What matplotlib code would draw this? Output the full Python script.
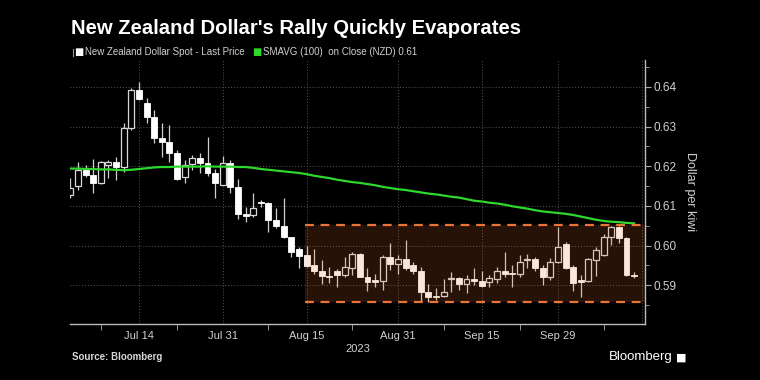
import numpy as np
import pandas as pd
import matplotlib
matplotlib.use('Agg')
import matplotlib.pyplot as plt
from matplotlib.patches import Rectangle

plt.rcParams['font.family'] = ['Liberation Sans', 'DejaVu Sans']

# NZD spot daily candles, Jul 3 - Oct 13 2023 (weekdays)
dates = pd.bdate_range('2023-07-03', '2023-10-13')

opens = [0.6128, 0.6150, 0.6190, 0.6178, 0.6158, 0.6203, 0.6211, 0.6198, 0.6296, 0.6392,
         0.6360, 0.6324, 0.6271, 0.6261, 0.6233, 0.6173, 0.6205, 0.6221, 0.6208, 0.6183,
         0.6153, 0.6208, 0.6148, 0.6079, 0.6077, 0.6110, 0.6107, 0.6064, 0.6049, 0.6021,
         0.5992, 0.5976, 0.5950, 0.5935, 0.5923, 0.5935, 0.5925, 0.5943, 0.5978, 0.5920,
         0.5913, 0.5910, 0.5971, 0.5953, 0.5966, 0.5950, 0.5935, 0.5882, 0.5873, 0.5873,
         0.5915, 0.5917, 0.5902, 0.5915, 0.5910, 0.5907, 0.5915, 0.5935, 0.5930, 0.5928,
         0.5963, 0.5966, 0.5943, 0.5920, 0.5958, 0.6004, 0.5945, 0.5913, 0.5910, 0.5963,
         0.5976, 0.6021, 0.6046, 0.6019, 0.5925]
highs = [0.6170, 0.6211, 0.6203, 0.6218, 0.6214, 0.6216, 0.6223, 0.6309, 0.6397, 0.6413,
         0.6372, 0.6342, 0.6309, 0.6304, 0.6241, 0.6216, 0.6228, 0.6233, 0.6274, 0.6193,
         0.6226, 0.6216, 0.6168, 0.6097, 0.6132, 0.6115, 0.6110, 0.6094, 0.6120, 0.6021,
         0.5997, 0.5999, 0.5991, 0.5963, 0.5945, 0.5940, 0.5971, 0.5983, 0.5981, 0.5943,
         0.5928, 0.5976, 0.6006, 0.5976, 0.6014, 0.5958, 0.5945, 0.5902, 0.5892, 0.5915,
         0.5932, 0.5920, 0.5925, 0.5943, 0.5935, 0.5925, 0.5945, 0.5983, 0.5950, 0.5976,
         0.5978, 0.5971, 0.5950, 0.5968, 0.6046, 0.6009, 0.5950, 0.5925, 0.5968, 0.5996,
         0.6029, 0.6049, 0.6049, 0.6021, 0.5933]
lows = [0.6120, 0.6140, 0.6173, 0.6132, 0.6155, 0.6170, 0.6165, 0.6185, 0.6291, 0.6367,
        0.6309, 0.6259, 0.6223, 0.6211, 0.6165, 0.6158, 0.6190, 0.6183, 0.6175, 0.6120,
        0.6153, 0.6132, 0.6067, 0.6059, 0.6072, 0.6097, 0.6034, 0.6044, 0.6019, 0.5971,
        0.5943, 0.5945, 0.5928, 0.5903, 0.5905, 0.5895, 0.5920, 0.5925, 0.5920, 0.5885,
        0.5895, 0.5887, 0.5938, 0.5928, 0.5938, 0.5928, 0.5857, 0.5857, 0.5862, 0.5870,
        0.5882, 0.5887, 0.5880, 0.5900, 0.5895, 0.5895, 0.5905, 0.5920, 0.5895, 0.5920,
        0.5943, 0.5935, 0.5900, 0.5913, 0.5955, 0.5940, 0.5885, 0.5870, 0.5908, 0.5923,
        0.5973, 0.6001, 0.6006, 0.5923, 0.5918]
closes = [0.6145, 0.6190, 0.6178, 0.6158, 0.6211, 0.6211, 0.6198, 0.6296, 0.6392, 0.6370,
          0.6324, 0.6271, 0.6261, 0.6233, 0.6168, 0.6203, 0.6221, 0.6208, 0.6183, 0.6158,
          0.6208, 0.6148, 0.6079, 0.6074, 0.6094, 0.6107, 0.6064, 0.6049, 0.6021, 0.5983,
          0.5974, 0.5948, 0.5935, 0.5923, 0.5920, 0.5925, 0.5945, 0.5978, 0.5920, 0.5908,
          0.5908, 0.5971, 0.5953, 0.5966, 0.5943, 0.5935, 0.5882, 0.5870, 0.5870, 0.5882,
          0.5917, 0.5902, 0.5915, 0.5910, 0.5897, 0.5917, 0.5935, 0.5928, 0.5928, 0.5958,
          0.5965, 0.5943, 0.5920, 0.5958, 0.5996, 0.5943, 0.5905, 0.5908, 0.5966, 0.5988,
          0.6021, 0.6046, 0.6019, 0.5925, 0.5923]

# 100-day simple moving average on close
sma100 = [0.6194, 0.6194, 0.6193, 0.6193, 0.6192, 0.6192, 0.6191,
          0.6190, 0.6191, 0.6193, 0.6195,
          0.6197, 0.6198, 0.6198, 0.6199, 0.6199,
          0.6199, 0.6199, 0.6200, 0.6199, 0.6199, 0.6199, 0.6198,
          0.6198, 0.6196, 0.6193, 0.6191, 0.6189, 0.6187, 0.6185,
          0.6183, 0.6180, 0.6176, 0.6173, 0.6170, 0.6166,
          0.6163, 0.6160, 0.6158, 0.6155, 0.6152, 0.6148, 0.6145, 0.6142,
          0.6140, 0.6137, 0.6134, 0.6131, 0.6129, 0.6126, 0.6123,
          0.6121, 0.6117, 0.6113, 0.6111, 0.6108, 0.6106, 0.6103,
          0.6099, 0.6096, 0.6093, 0.6089, 0.6086,
          0.6084, 0.6082, 0.6080, 0.6077, 0.6073, 0.6069, 0.6065,
          0.6062, 0.6060, 0.6059, 0.6057, 0.6056]

tick_dates = ['2023-07-14', '2023-07-31', '2023-08-15', '2023-08-31', '2023-09-15', '2023-09-29']
tick_labels = ['Jul 14', 'Jul 31', 'Aug 15', 'Aug 31', 'Sep 15', 'Sep 29']
minor_dates = ['2023-07-07', '2023-07-21', '2023-08-08', '2023-08-23', '2023-09-08', '2023-09-22', '2023-10-09']

range_start = '2023-08-15'
range_top = 0.6052
range_bottom = 0.5858

x = np.arange(len(dates))
o = np.array(opens); h = np.array(highs); l = np.array(lows); c = np.array(closes)
up = c > o
pos = lambda d: dates.get_loc(pd.Timestamp(d))

fig = plt.figure(figsize=(7.6, 3.8), dpi=100, facecolor='black')
ax = fig.add_axes([0.0921, 0.1474, 0.7566, 0.6947], facecolor='black')

# wicks
ax.vlines(x, l, h, color='#d0d0d0', lw=0.9, zorder=2)
# bodies
body = np.maximum(np.abs(c - o), 0.00012)
bottom = np.minimum(o, c)
ax.bar(x[~up], body[~up], bottom=bottom[~up], width=0.78,
       color='white', edgecolor='white', lw=0.6, zorder=3)
ax.bar(x[up], body[up], bottom=bottom[up], width=0.78,
       color='black', edgecolor='#d8d8d8', lw=0.9, zorder=3)

ax.plot(x, sma100, color='#2ed82e', lw=1.6, zorder=4)

# highlighted trading range
x0 = pos(range_start) - 0.2
x1 = len(dates) + 0.43
ax.add_patch(Rectangle((x0, range_bottom), x1 - x0, range_top - range_bottom,
                       facecolor='#e8702f', alpha=0.17, lw=0, zorder=5))
ax.hlines([range_top, range_bottom], x0, x1, color='#e8743a', lw=1.6,
          linestyles=(0, (4, 3)), zorder=6)

ax.set_xlim(-0.05, len(dates) + 0.43)
ax.set_ylim(0.5802, 0.6468)

ax.set_xticks([pos(d) for d in tick_dates])
ax.set_xticklabels(tick_labels)
ax.set_xticks([pos(d) for d in minor_dates], minor=True)
ax.tick_params(axis='x', which='major', length=0, pad=5, colors='#d0d0d0', labelsize=8)
ax.tick_params(axis='x', which='minor', length=4, color='#aaaaaa')

yt = [0.59, 0.60, 0.61, 0.62, 0.63, 0.64]
ax.set_yticks(yt)
ax.set_yticklabels(['%.2f' % v for v in yt])
ax.set_yticks(np.arange(0.585, 0.646, 0.01), minor=True)
ax.yaxis.tick_right()
ax.yaxis.set_label_position('right')
ax.tick_params(axis='y', which='major', length=4, color='#aaaaaa', colors='#d0d0d0', labelsize=8.5, pad=2)
ax.tick_params(axis='y', which='minor', length=3, color='#aaaaaa')
ax.set_ylabel('Dollar per kiwi', color='#d0d0d0', fontsize=9, rotation=270, labelpad=14)

for v in yt:
    ax.axhline(v, color='#555555', lw=0.7, ls=(0, (1, 2)), zorder=1)
for v in [pos(d) for d in tick_dates] + [len(dates)]:
    ax.axvline(v, color='#555555', lw=0.7, ls=(0, (1, 2)), zorder=1)

for s in ['left', 'top']:
    ax.spines[s].set_visible(False)
for s in ['right', 'bottom']:
    ax.spines[s].set_color('#bbbbbb')
    ax.spines[s].set_linewidth(1)

fig.text(358 / 760, 0.082, '2023', color='#d0d0d0', fontsize=8, ha='center', va='center')

fig.text(0.093, 0.926, "New Zealand Dollar's Rally Quickly Evaporates", color='white',
         fontsize=14.6, fontweight='bold', ha='left', va='center')

# legend row
renderer = fig.canvas.get_renderer()
ly = 0.862
fig.add_artist(plt.Line2D([0.0955, 0.0955], [0.852, 0.872], color='#999999', lw=0.8))
fig.text(0.098, ly, '\u25a0', color='white', fontsize=7, ha='left', va='center', family='DejaVu Sans')
t1 = fig.text(0.112, ly, 'New Zealand Dollar Spot - Last Price', color='#d0d0d0', fontsize=7,
              ha='left', va='center')
x_end = t1.get_window_extent(renderer).x1 / 760
fig.text(x_end + 0.010, ly, '\u25a0', color='#2ed82e', fontsize=7, ha='left', va='center', family='DejaVu Sans')
fig.text(x_end + 0.024, ly, 'SMAVG (100)  on Close (NZD) 0.61', color='#d0d0d0', fontsize=7,
         ha='left', va='center')

fig.text(0.095, 0.06, 'Source: Bloomberg', color='#d8d8d8', fontsize=7, fontweight='bold',
         ha='left', va='center')
fig.text(0.885, 0.06, 'Bloomberg', color='white', fontsize=9.5, ha='right', va='center')
fig.text(0.889, 0.06, '\u25a0', color='white', fontsize=8, ha='left', va='center', family='DejaVu Sans')

fig.savefig('out.png', dpi=100, facecolor='black')
